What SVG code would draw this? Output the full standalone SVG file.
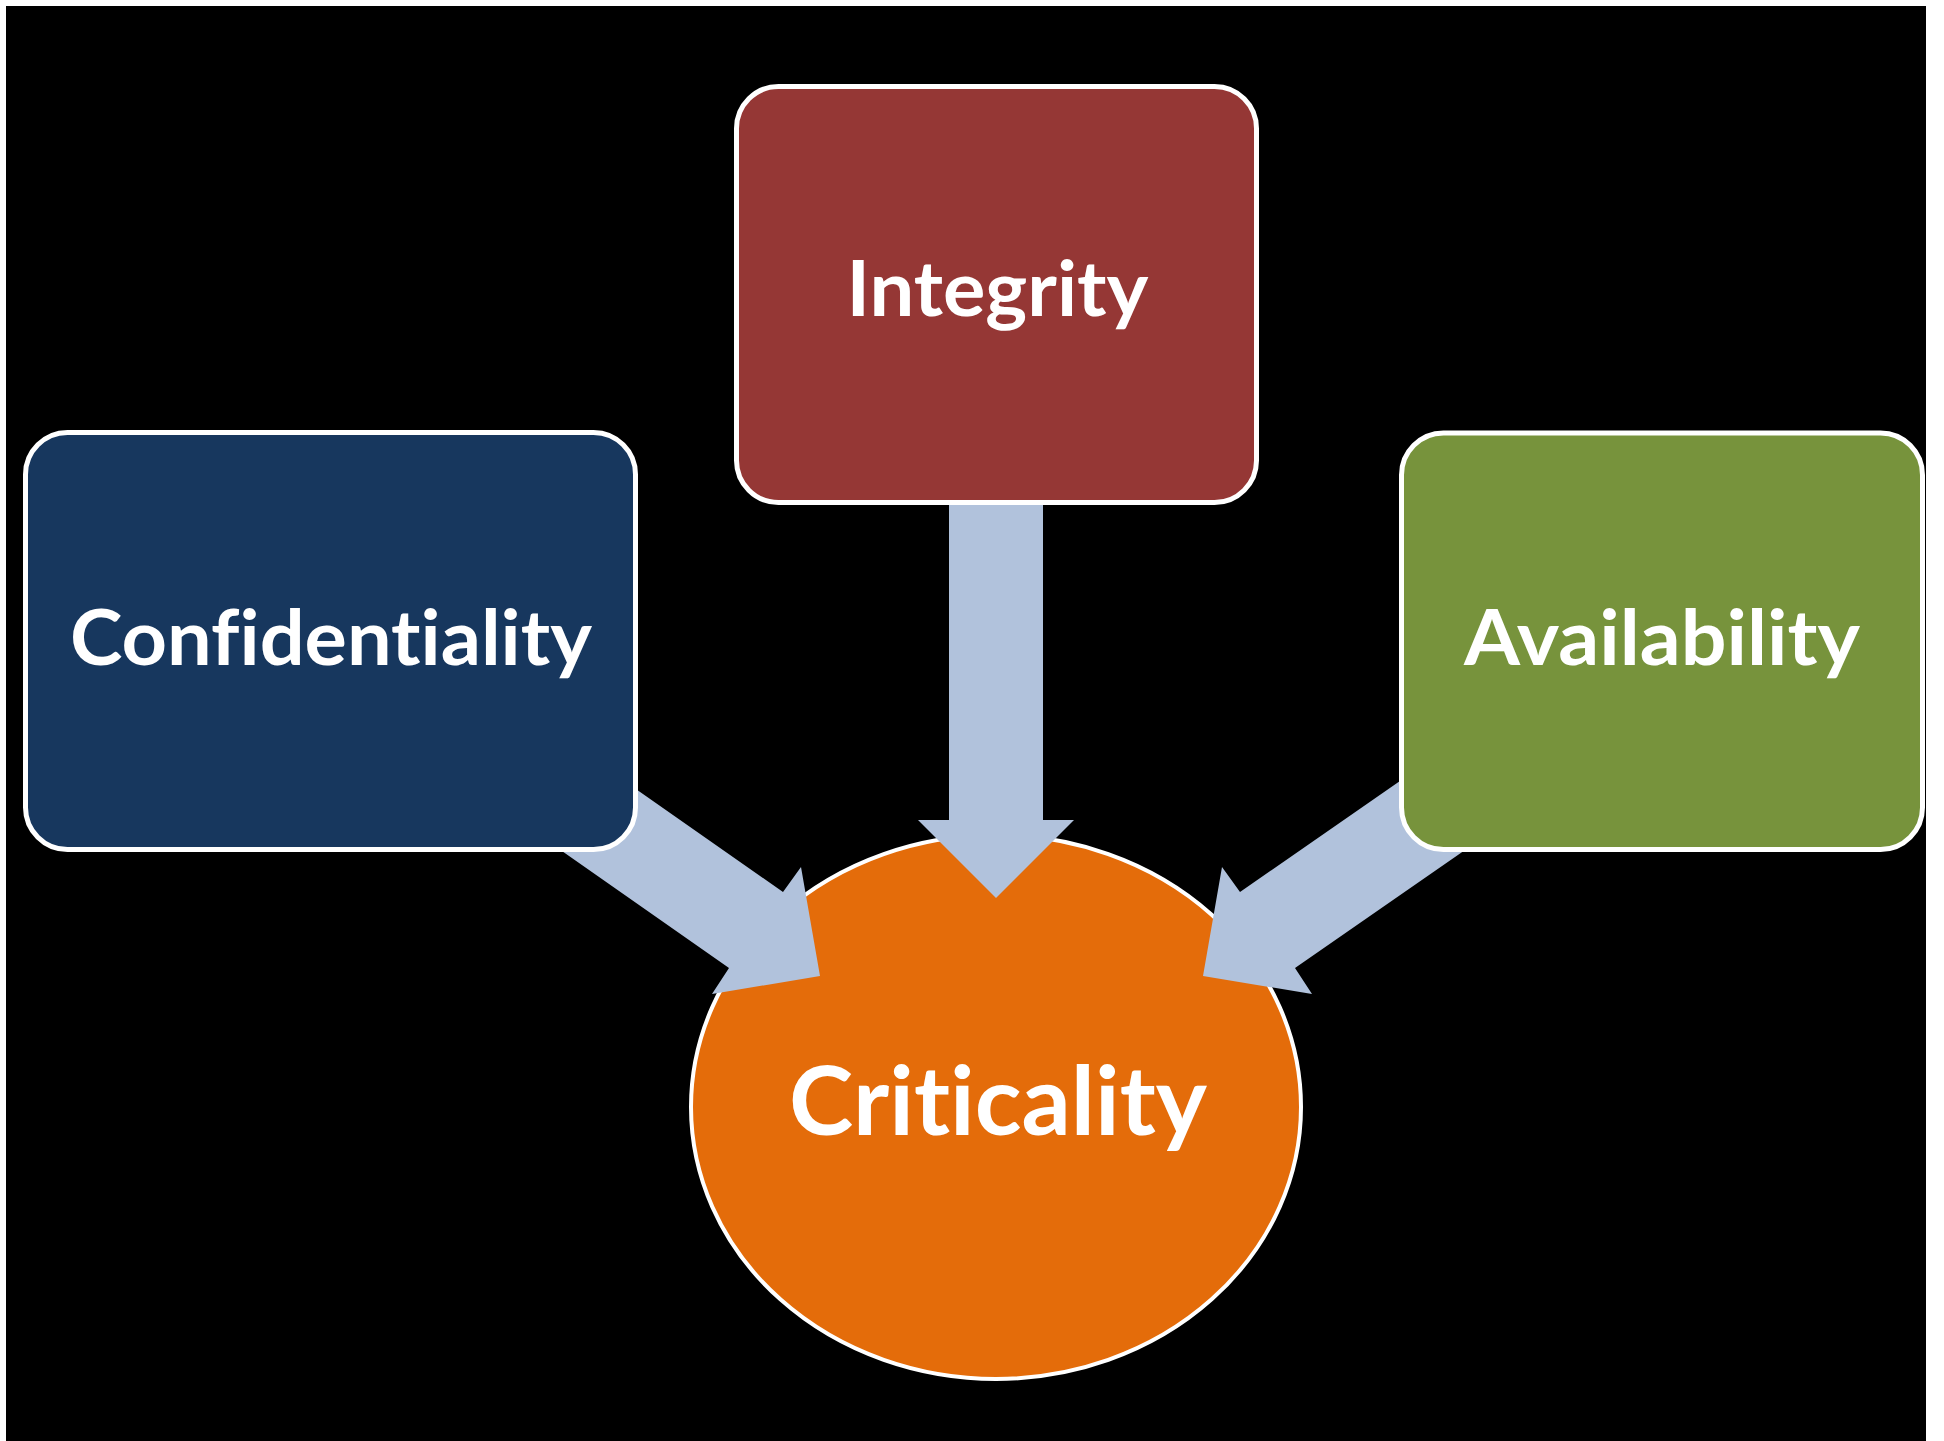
<svg xmlns="http://www.w3.org/2000/svg" width="1944" height="1441" viewBox="0 0 1944 1441">
  <style>
    .box { stroke: #ffffff; stroke-width: 5; }
    .arrow { fill: #b1c2dc; stroke: none; }
    .label { font-family: "Lato", "Liberation Sans", sans-serif; font-weight: bold; fill: #ffffff; text-anchor: middle;
             font-variant-ligatures: none; font-feature-settings: "liga" 0, "clig" 0, "dlig" 0; }
  </style>

  <!-- page -->
  <rect x="0" y="0" width="1944" height="1441" fill="#ffffff"/>
  <rect x="6" y="6" width="1920" height="1435" fill="#000000"/>

  <!-- central result node -->
  <g id="criticality">
    <ellipse cx="996" cy="1107" rx="305" ry="272" fill="#e46c0a" stroke="#ffffff" stroke-width="4"/>
    <text class="label" x="998" y="1135" font-size="95" textLength="418" lengthAdjust="spacingAndGlyphs">Criticality</text>
  </g>

  <!-- block arrows feeding into the result -->
  <g id="connectors">
    <polygon class="arrow" points="453,661 783,892 801,867 820,976 712,994 729,968 399,737"/>
    <polygon class="arrow" points="949,450 1043,450 1043,820 1074,820 996,898 918,820 949,820"/>
    <polygon class="arrow" points="1570,663 1240,892 1222,867 1203,976 1312,994 1295,968 1625,739"/>
  </g>

  <g id="confidentiality">
    <rect class="box" x="25.5" y="432.5" width="610" height="417" rx="42" ry="42" fill="#17375e"/>
    <text class="label" x="331" y="665" font-size="76" textLength="522" lengthAdjust="spacingAndGlyphs">Confidentiality</text>
  </g>

  <g id="integrity">
    <rect class="box" x="736.5" y="86.5" width="520" height="416" rx="42" ry="42" fill="#953735"/>
    <text class="label" x="997.5" y="316" font-size="76" textLength="302" lengthAdjust="spacingAndGlyphs">Integrity</text>
  </g>

  <g id="availability">
    <rect class="box" x="1401.5" y="433" width="521" height="416.5" rx="42" ry="42" fill="#77933c"/>
    <text class="label" x="1662" y="665" font-size="76" textLength="396" lengthAdjust="spacingAndGlyphs">Availability</text>
  </g>
</svg>
